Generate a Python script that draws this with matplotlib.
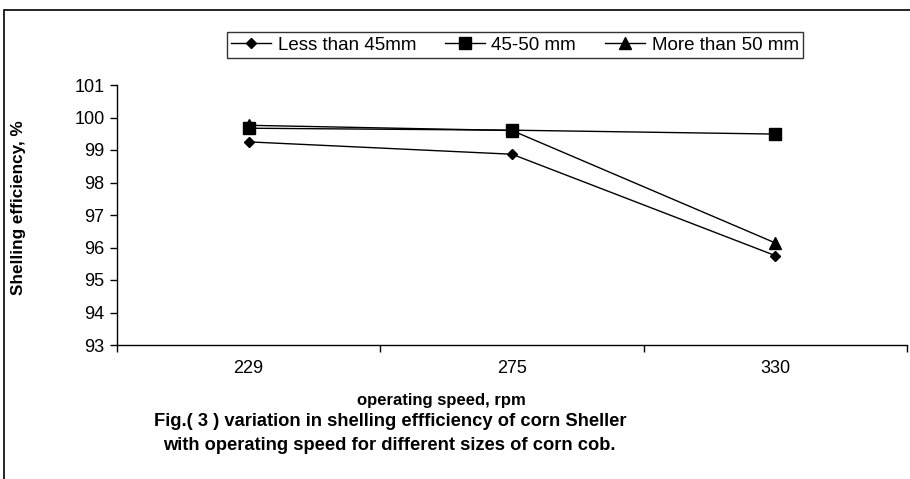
import matplotlib
matplotlib.use("Agg")
import matplotlib.pyplot as plt
from matplotlib.patches import Rectangle

plt.rcParams['font.family'] = ['Liberation Sans', 'DejaVu Sans']

speeds = ["229", "275", "330"]
less_45 = [99.25, 98.87, 95.75]
mm_45_50 = [99.67, 99.61, 99.49]
more_50 = [99.76, 99.60, 96.14]
series_names = ["Less than 45mm", "45-50 mm", "More than 50 mm"]
y_ticks = [93, 94, 95, 96, 97, 98, 99, 100, 101]

W, H = 910, 479
fig = plt.figure(figsize=(W / 100, H / 100), dpi=100)

# outer frame
fig.patches.append(Rectangle((4 / W, 0 - 0.01), 1.1, 1 - 10 / H + 0.01, transform=fig.transFigure,
                             fill=False, edgecolor='black', linewidth=1.2))

ax = fig.add_axes([117 / W, 1 - 345 / H, (907 - 117) / W, (345 - 85) / H])
x = list(range(len(speeds)))
ax.plot(x, less_45, color='black', lw=1, marker='D', ms=5.5, label=series_names[0])
ax.plot(x, mm_45_50, color='black', lw=1, marker='s', ms=8, label=series_names[1])
ax.plot(x, more_50, color='black', lw=1, marker='^', ms=8.5, label=series_names[2])

ax.set_xlim(-0.5, 2.5)
ax.set_ylim(93, 101)
ax.set_yticks(y_ticks)
ax.set_yticklabels([str(v) for v in y_ticks], fontsize=13)
ax.set_xticks(x)
ax.set_xticklabels(speeds, fontsize=13)
ax.set_xticks([-0.5, 0.5, 1.5, 2.5], minor=True)
ax.tick_params(axis='x', which='major', length=0, pad=11)
ax.tick_params(axis='x', which='minor', length=5, direction='out', width=1)
ax.tick_params(axis='y', length=5, direction='out', width=1, pad=4)
for s in ['top', 'right']:
    ax.spines[s].set_visible(False)
for s in ['left', 'bottom']:
    ax.spines[s].set_linewidth(1)

ax.set_ylabel("Shelling efficiency, %", fontsize=12.3, fontweight='bold')
ax.yaxis.set_label_coords(-0.115, 0.527)

fig.text(441 / W, 1 - 401 / H, "operating speed, rpm", fontsize=12, fontweight='bold',
         ha='center', va='center')
fig.text(390 / W, 1 - 421 / H, "Fig.( 3 ) variation in shelling effficiency of corn Sheller",
         fontsize=13.2, fontweight='bold', ha='center', va='center')
fig.text(389 / W, 1 - 445 / H, "with operating speed for different sizes of corn cob.",
         fontsize=13.2, fontweight='bold', ha='center', va='center')

leg = fig.legend(loc='center', bbox_to_anchor=(515 / W, 1 - 45 / H), ncol=3, fontsize=13.5,
                 frameon=True, fancybox=False, edgecolor='black', handlelength=2.1,
                 columnspacing=1.55, handletextpad=0.37, borderpad=0.22, borderaxespad=0)
leg.get_frame().set_linewidth(1)

fig.savefig("out.png", dpi=100)
